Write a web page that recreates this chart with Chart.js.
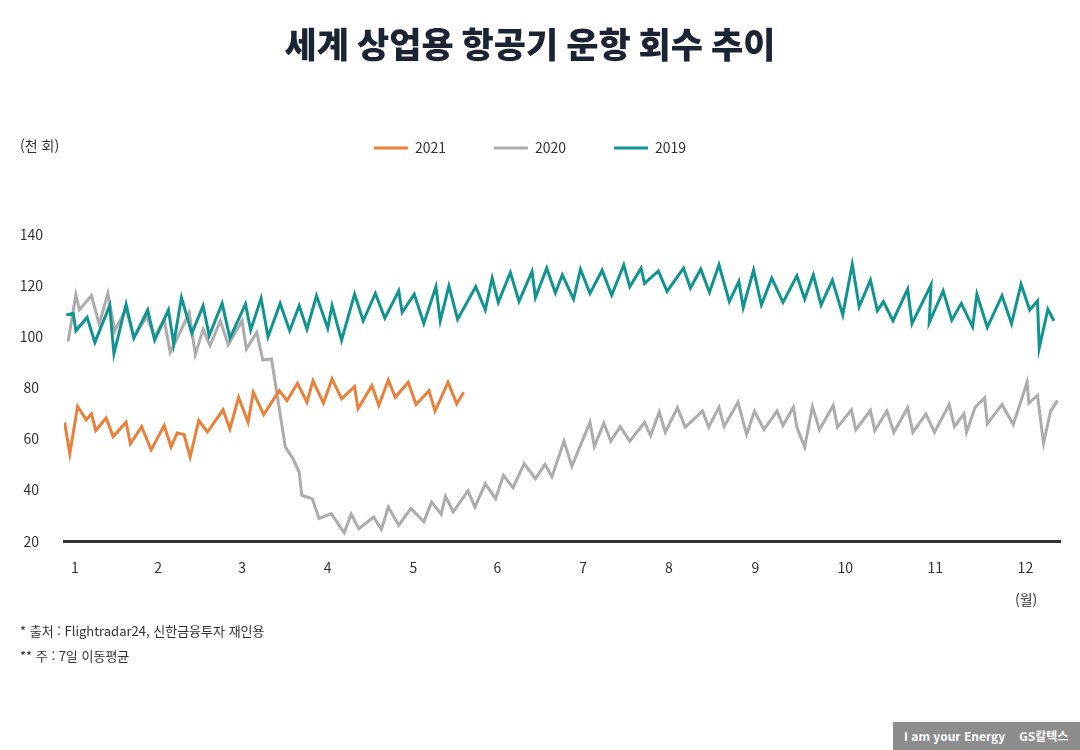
<!DOCTYPE html>
<html lang="ko">
<head>
<meta charset="utf-8">
<title>세계 상업용 항공기 운항 회수 추이</title>
<script src="https://cdn.jsdelivr.net/npm/chart.js@4.4.1/dist/chart.umd.min.js"></script>
<style>
  html, body { margin: 0; padding: 0; background: #fff; }
  body { width: 1080px; height: 750px; position: relative; overflow: hidden; font-family: "Noto Sans CJK KR", "Noto Sans", sans-serif; color: #333; }
  #wrap { position: absolute; left: 0; top: 0; width: 1080px; height: 750px; }
  .note { position: absolute; font-size: 13px; color: #333; white-space: nowrap; }
  #logo { position: absolute; left: 893px; top: 722px; width: 187px; height: 28px; background: #8d8d8d; color: #fff; font-size: 12px; font-weight: bold; line-height: 28px; }
</style>
</head>
<body>
<div id="wrap"><canvas id="chart"></canvas></div>
<div class="note" style="left:20px; top:135px; font-size:14px;">(천 회)</div>
<div class="note" style="left:1015px; top:589px; font-size:14px;">(월)</div>
<div class="note" style="left:20px; top:621px;">* 출처 : Flightradar24, 신한금융투자 재인용</div>
<div class="note" style="left:20px; top:646px;">** 주 : 7일 이동평균</div>
<div id="logo"><span style="margin-left:11px;">I am your Energy</span><span style="margin-left:14px;">GS칼텍스</span></div>
<script>
// x = position along the year in month units, y = thousand flights
const monthLabels = ['1', '2', '3', '4', '5', '6', '7', '8', '9', '10', '11', '12'];
const monthTickPos = [1, 1.96, 2.93, 3.92, 4.91, 5.88, 6.87, 7.86, 8.86, 9.90, 10.94, 11.98];

const months2021 = [0.88,0.94,1.03,1.13,1.19,1.24,1.36,1.44,1.59,1.64,1.77,1.88,2.03,2.11,2.18,2.26,2.33,2.43,2.53,2.71,2.79,2.89,3.00,3.06,3.18,3.36,3.45,3.57,3.68,3.75,3.87,3.97,4.08,4.23,4.27,4.43,4.51,4.62,4.70,4.85,4.94,5.09,5.16,5.31,5.41,5.49];
const values2021 = [66.6,54.3,72.8,67.6,69.9,63.4,68.3,61.0,66.6,58.2,64.9,55.8,65.3,56.9,62.4,61.8,53.0,67.3,62.8,71.5,64.0,76.4,66.6,78.4,69.6,79.0,75.1,81.9,74.5,82.9,74.1,83.6,75.8,80.6,71.9,81.0,73.2,83.2,76.4,82.3,73.6,79.0,71.0,82.3,73.8,78.4];

const months2020 = [0.92,1.01,1.05,1.19,1.28,1.38,1.46,1.59,1.68,1.83,1.92,2.03,2.10,2.23,2.32,2.39,2.48,2.56,2.68,2.77,2.93,2.98,3.10,3.17,3.27,3.43,3.52,3.59,3.62,3.74,3.82,3.96,4.11,4.19,4.28,4.45,4.54,4.62,4.74,4.88,5.03,5.12,5.23,5.28,5.37,5.54,5.62,5.74,5.86,5.95,6.06,6.19,6.32,6.43,6.51,6.65,6.74,6.95,7.00,7.11,7.19,7.30,7.41,7.58,7.65,7.75,7.82,7.96,8.05,8.25,8.32,8.44,8.50,8.66,8.76,8.85,8.96,9.11,9.18,9.30,9.34,9.43,9.52,9.60,9.76,9.81,9.97,10.02,10.19,10.24,10.38,10.46,10.62,10.68,10.83,10.93,11.10,11.16,11.27,11.30,11.40,11.51,11.54,11.71,11.84,12.00,12.02,12.12,12.19,12.27,12.35];
const values2020 = [98.3,116.5,110.7,116.2,105.1,117.1,102.5,111.0,100.0,108.0,100.0,107.0,94.0,103.0,109.6,93.1,103.0,96.6,106.4,97.0,106.4,95.3,101.8,91.0,91.4,56.9,52.3,47.1,38.0,36.7,28.9,30.8,23.3,30.6,24.9,29.5,24.6,33.4,26.3,32.8,27.6,35.4,30.6,37.6,31.5,39.7,33.4,42.5,36.7,45.8,41.0,50.4,44.5,50.1,45.3,59.2,49.3,66.6,57.1,66.3,59.2,64.9,59.2,66.6,61.4,70.6,62.7,72.3,64.7,71.0,64.7,72.5,65.0,74.5,61.8,71.0,63.7,71.0,65.3,72.5,64.7,56.9,72.8,63.7,73.2,64.7,71.5,63.7,71.2,63.4,71.0,62.7,72.3,62.7,69.9,62.7,73.6,64.9,69.9,62.7,72.5,76.2,66.0,73.6,65.7,82.3,74.1,77.1,58.4,70.9,75.1];

const months2019 = [0.90,0.98,1.01,1.14,1.23,1.40,1.45,1.59,1.68,1.84,1.92,2.08,2.14,2.23,2.35,2.48,2.55,2.70,2.79,2.97,3.03,3.15,3.23,3.37,3.48,3.59,3.68,3.79,3.92,3.97,4.08,4.23,4.33,4.47,4.58,4.74,4.78,4.92,5.03,5.17,5.22,5.32,5.42,5.63,5.74,5.82,5.89,6.03,6.13,6.28,6.32,6.45,6.55,6.63,6.76,6.84,6.95,7.09,7.20,7.34,7.41,7.54,7.58,7.74,7.84,8.03,8.11,8.23,8.33,8.44,8.56,8.67,8.72,8.84,8.93,9.05,9.18,9.34,9.43,9.53,9.62,9.75,9.87,9.98,10.06,10.19,10.27,10.34,10.45,10.62,10.67,10.89,10.87,11.03,11.13,11.24,11.37,11.42,11.54,11.71,11.82,11.93,12.03,12.12,12.14,12.24,12.31];
const values2019 = [108.7,109.3,102.5,107.7,97.9,112.3,93.4,112.9,99.6,110.6,98.8,110.6,97.3,115.5,101.4,112.3,100.5,113.2,99.6,112.9,102.7,115.2,100.1,113.2,102.5,112.3,103.1,116.2,103.5,112.3,98.8,116.8,106.4,117.1,107.4,118.1,109.7,116.8,105.3,119.7,106.4,120.1,107.0,119.7,110.6,123.1,113.6,125.3,114.0,125.7,115.5,127.0,117.3,124.4,114.9,126.6,117.1,126.2,116.4,128.3,119.7,127.0,121.0,125.9,117.9,127.0,119.2,126.6,117.5,128.3,113.9,121.8,111.6,126.2,112.6,123.1,113.6,124.0,114.9,124.4,112.6,122.3,108.7,128.5,111.9,122.3,110.3,113.9,106.4,118.8,105.3,120.5,105.7,118.1,106.6,113.2,104.0,116.8,103.8,116.2,105.3,120.7,110.6,114.2,95.7,110.9,106.4];

const toPoints = (xs, ys) => xs.map((x, i) => ({ x: x, y: ys[i] }));

Chart.defaults.font.family = '"Noto Sans CJK KR", "Noto Sans", sans-serif';
Chart.defaults.color = '#333';

// extra space between the legend and the plot
const legendMargin = {
  id: 'legendMargin',
  beforeInit(chart) {
    const fit = chart.legend.fit;
    chart.legend.fit = function () {
      fit.bind(chart.legend)();
      this.height += 70;
    };
  }
};

const ctx = document.getElementById('chart').getContext('2d');
new Chart(ctx, {
  type: 'line',
  data: {
    datasets: [
      { label: '2021', data: toPoints(months2021, values2021), borderColor: '#e97f38', backgroundColor: '#e97f38', order: 0 },
      { label: '2020', data: toPoints(months2020, values2020), borderColor: '#acacac', backgroundColor: '#acacac', order: 2 },
      { label: '2019', data: toPoints(months2019, values2019), borderColor: '#119490', backgroundColor: '#119490', order: 1 }
    ]
  },
  options: {
    responsive: true,
    maintainAspectRatio: false,
    animation: false,
    layout: { padding: { left: 0, right: 20, top: 0, bottom: 156 } },
    elements: {
      point: { radius: 0 },
      line: { borderWidth: 3, tension: 0, borderJoinStyle: 'miter' }
    },
    plugins: {
      title: {
        display: true,
        text: '세계 상업용 항공기 운항 회수 추이',
        color: '#1c2333',
        font: { size: 35, weight: 900 },
        padding: { top: 24, bottom: 27 }
      },
      legend: {
        display: true,
        labels: {
          boxWidth: 34,
          boxHeight: 3,
          padding: 48,
          font: { size: 14 },
          color: '#333',
          sort: (a, b) => a.datasetIndex - b.datasetIndex,
          generateLabels(chart) {
            const items = Chart.defaults.plugins.legend.labels.generateLabels(chart);
            items.forEach(it => { it.lineWidth = 0; it.fillStyle = it.strokeStyle; });
            return items;
          }
        }
      },
      tooltip: { enabled: false }
    },
    scales: {
      x: {
        type: 'linear',
        min: 0.873,
        max: 12.38,
        afterBuildTicks: axis => { axis.ticks = monthTickPos.map(v => ({ value: v })); },
        ticks: {
          includeBounds: false, padding: 18, font: { size: 14 }, color: '#333', maxRotation: 0, autoSkip: false,
          callback: (value, index) => monthLabels[index]
        },
        grid: { display: false, drawTicks: false },
        border: { display: true, color: '#333', width: 3 }
      },
      y: {
        min: 20,
        max: 140,
        afterFit: axis => { axis.width = 64; },
        ticks: { stepSize: 20, padding: 21, crossAlign: 'center', font: { size: 14 }, color: '#333' },
        grid: { display: false, drawTicks: false },
        border: { display: false }
      }
    }
  },
  plugins: [legendMargin]
});
</script>
</body>
</html>
